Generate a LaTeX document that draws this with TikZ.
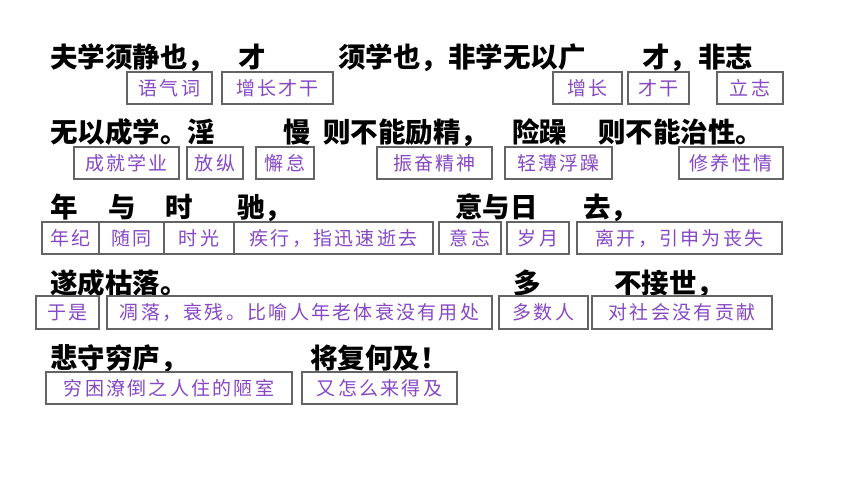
\documentclass[tikz,border=0pt]{standalone}
\usepackage{fontspec}
\newfontfamily\cjk{Noto Sans CJK SC}
\newfontfamily\cjklab{Noto Sans CJK SC}[LetterSpace=12]
\definecolor{labc}{RGB}{134,72,196}
\definecolor{boxc}{RGB}{100,100,100}
\newcommand\lbox[6]{\node[lab, minimum width={#3-#2}, minimum height={#5-#4}] (#1) at ({(#2+#3)/2},{(#4+#5)/2}) {#6};}
\begin{document}
\begin{tikzpicture}[x=1pt,y=-1pt,
 mt/.style={inner sep=0pt, anchor=base west, font=\cjk\bfseries\fontsize{27.5}{30}\selectfont, text=black},
 lab/.style={draw=boxc, line width=1.2pt, inner sep=0pt, font=\cjklab\fontsize{19}{21}\selectfont, text=labc, text height=14.4pt, text depth=0pt}]
\fill[white] (0,0) rectangle (860,484);
\useasboundingbox (0,0) rectangle (860,484);
% row 1
\node[mt] (t11) at (50,68) {夫学须静也，};
\node[mt] (t12) at (238,68) {才};
\node[mt] (t13) at (338,68) {须学也，非学无以广};
\node[mt] (t14) at (642,68) {才，};
\node[mt] (t15) at (698,68) {非志};
\lbox{b11}{127}{212}{72}{104}{语气词}
\lbox{b12}{222}{333}{72}{104}{增长才干}
\lbox{b13}{553}{622}{72}{104}{增长}
\lbox{b14}{628}{689}{72}{104}{才干}
\lbox{b15}{717}{783}{72}{104}{立志}
% row 2
\node[mt] (t21) at (50,143) {无以成学。淫};
\node[mt] (t22) at (283,143) {慢};
\node[mt] (t23) at (323,143) {则不能励精，};
\node[mt] (t24) at (512,143) {险躁};
\node[mt] (t25) at (598,143) {则不能治性。};
\lbox{b21}{74}{179}{147}{179}{成就学业}
\lbox{b22}{187}{243}{147}{179}{放纵}
\lbox{b23}{256}{314}{147}{179}{懈怠}
\lbox{b24}{377}{492}{147}{179}{振奋精神}
\lbox{b25}{505}{612}{147}{179}{轻薄浮躁}
\lbox{b26}{679}{783}{147}{179}{修养性情}
% row 3
\node[mt] (t31) at (50,218) {年};
\node[mt] (t32) at (108,218) {与};
\node[mt] (t33) at (165,218) {时};
\node[mt] (t34) at (237,218) {驰，};
\node[mt] (t35) at (455,218) {意与日};
\node[mt] (t36) at (583,218) {去，};
\lbox{b31}{42}{99}{222}{254}{年纪}
\lbox{b32}{99}{164}{222}{254}{随同}
\lbox{b33}{164}{234}{222}{254}{时光}
\lbox{b34}{234}{433}{222}{254}{疾行，指迅速逝去}
\lbox{b35}{439}{501}{222}{254}{意志}
\lbox{b36}{507}{569}{222}{254}{岁月}
\lbox{b37}{577}{782}{222}{254}{离开，引申为丧失}
% row 4
\node[mt] (t41) at (50,293) {遂成枯落。};
\node[mt] (t42) at (513,293) {多};
\node[mt] (t43) at (614,293) {不接世，};
\lbox{b41}{36}{99}{296}{329}{于是}
\lbox{b42}{107}{492}{296}{329}{凋落，衰残。比喻人年老体衰没有用处}
\lbox{b43}{499}{588}{296}{329}{多数人}
\lbox{b44}{592}{772}{296}{329}{对社会没有贡献}
% row 5
\node[mt] (t51) at (50,368) {悲守穷庐，};
\node[mt] (t52) at (310,368) {将复何及！};
\lbox{b51}{46}{292}{372}{404}{穷困潦倒之人住的陋室}
\lbox{b52}{302}{457}{372}{404}{又怎么来得及}
\end{tikzpicture}
\end{document}
